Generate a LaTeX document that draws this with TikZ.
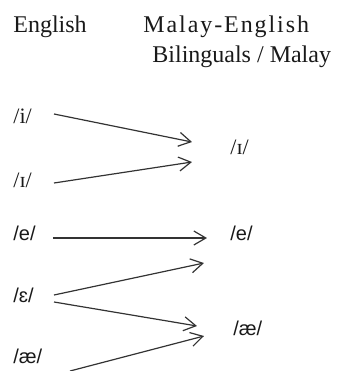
\documentclass[tikz,border=0pt]{standalone}
\usepackage{fontspec}
\setmainfont{Liberation Serif}
\newfontfamily\ipasans{Liberation Sans}
\newfontfamily\headspaced[LetterSpace=8]{Liberation Serif}
\usepackage{tikz}
\usetikzlibrary{arrows.meta}

\begin{document}
\begin{tikzpicture}[x=0.5pt,y=-0.5pt,
  head/.style={anchor=base west,inner sep=0pt,font=\fontsize{12}{14}\selectfont,text=black!90},
  ph/.style={anchor=base west,inner sep=0pt,font=\fontsize{11}{13}\selectfont,text=black!90},
  phs/.style={ph,font=\fontsize{10}{12}\selectfont\ipasans},
  arr/.style={-{Straight Barb[length=6pt,width=7pt]},line width=0.6pt,draw=black!80}]
\useasboundingbox (0,0) rectangle (341,371);
% column heads
\node[head] (en) at (13,32) {English};
\node[head] (me) at (143,32) {\headspaced Malay-English};
\node[head] (bm) at (152,62) {Bilinguals / Malay};
% English vowels
\node[ph] (iL) at (13,123) {/i/};
\node[ph] (IL) at (13,187) {/ɪ/};
\node[phs] (eL) at (13,240) {/e/};
\node[phs] (EL) at (13,302) {/ɛ/};
\node[phs] (aeL) at (13,363) {/æ/};
% Malay-English vowels
\node[ph] (IR) at (230,154) {/ɪ/};
\node[phs] (eR) at (230,240) {/e/};
\node[phs] (aeR) at (233,335) {/æ/};
% arrow ends
\coordinate (iS) at (54,114);  \coordinate (iT) at (192,142);
\coordinate (IS) at (54,183);  \coordinate (IT) at (192,162);
\coordinate (eS) at (53,238);  \coordinate (eT) at (207,238);
\coordinate (ES) at (54,295);  \coordinate (ET) at (204,263);
\coordinate (Es) at (54,302);  \coordinate (Et) at (197,326);
\coordinate (aeS) at (70,371); \coordinate (aeT) at (204,336);
\draw[arr] (iS) -- (iT);
\draw[arr] (IS) -- (IT);
\draw[arr] (eS) -- (eT);
\draw[arr] (ES) -- (ET);
\draw[arr] (Es) -- (Et);
\draw[arr] (aeS) -- (aeT);
\end{tikzpicture}
\end{document}
